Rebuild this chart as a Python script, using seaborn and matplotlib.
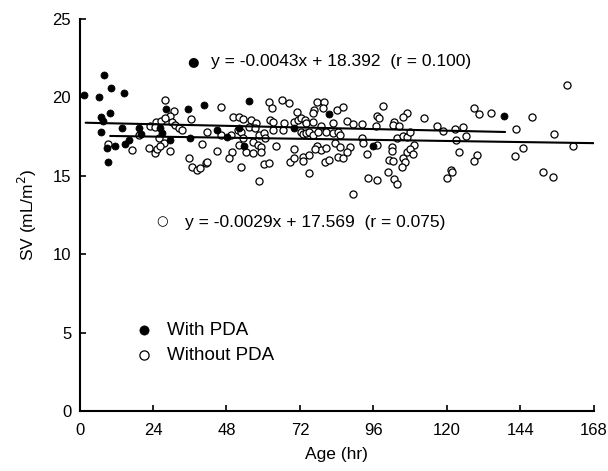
import numpy as np
import pandas as pd
import seaborn as sns
from matplotlib import pyplot as plt

# ---- data ----
pda_age = [1.5, 6.4, 8.1, 10.3, 14.5, 10.0, 7.0, 7.6, 7.0, 13.8, 19.3, 20.0, 26.4, 27.0,
           16.3, 15.0, 11.6, 8.9, 36.2, 29.7, 28.3, 35.4, 40.8, 9.4, 45.0, 48.3, 52.1,
           53.8, 55.4, 70.2, 81.4, 95.7, 138.7]
pda_sv = [20.15, 20.0, 21.45, 20.6, 20.3, 19.0, 18.77, 18.5, 17.8, 18.03, 18.03, 17.65, 18.03, 17.7,
          17.3, 17.0, 16.9, 16.75, 17.4, 17.28, 19.24, 19.24, 19.5, 15.86, 17.92, 17.49, 18.03,
          16.9, 19.79, 18.03, 18.94, 16.92, 18.83]

nopda_age = [
    # 0-42 h
    28.0, 30.8, 29.5, 36.3, 25.1, 26.7, 28.0, 30.2, 23.1, 24.8, 31.3, 32.4, 33.5, 19.3,
    25.8, 27.5, 22.6, 17.1, 9.4, 40.1, 24.7, 25.3, 26.4, 29.4, 35.7, 36.8, 38.4, 39.5, 41.2,
    # 42-85 h
    46.1, 61.8, 62.8, 66.2, 68.4, 77.6, 79.8, 79.6, 76.5, 76.1, 84.1, 71.1, 50.2, 52.2,
    53.5, 56.0, 57.6, 62.2, 63.1, 66.7, 70.2, 71.3, 72.4, 73.5, 74.1, 76.3, 79.0, 82.8,
    41.7, 46.1, 49.4, 51.6, 52.7, 55.4, 57.4, 58.7, 60.4, 60.7, 63.1, 66.4, 72.4, 73.0,
    74.1, 75.1, 76.3, 77.9, 80.6, 82.8, 84.5,
    53.3, 52.1, 56.5, 58.2, 59.3, 64.2, 70.2, 77.4, 79.0, 80.6, 83.4, 85.0,
    45.0, 49.7, 48.8, 41.7, 52.7, 58.7, 60.4, 62.0, 54.3, 56.5, 59.3, 68.6, 70.2, 73.0,
    73.0, 75.1, 76.8, 80.1, 81.5, 84.5, 75.0,
    # 85-127 h
    85.9, 99.0, 97.1, 97.9, 106.9, 105.8, 112.6, 87.4, 89.2, 92.4, 96.8, 102.6, 102.4,
    104.4, 116.6, 118.8, 122.5, 125.1,
    85.0, 92.4, 92.5, 103.7, 105.8, 106.9, 108.0, 126.3, 122.8, 109.1, 102.0, 97.1, 88.3,
    86.1, 87.2, 93.8, 102.0, 101.2, 102.3, 105.8, 106.4, 105.3, 107.0, 108.0, 109.0,
    100.9, 102.6, 103.7, 94.1, 97.3, 89.4, 124.1, 121.2, 121.7, 119.9,
    # 127-168 h
    159.3, 128.9, 130.5, 134.5, 147.7, 142.5, 154.9, 144.7, 161.2, 129.9, 128.8, 142.3,
    151.3, 154.6]
nopda_sv = [
    19.83, 19.13, 18.83, 18.6, 18.45, 18.51, 18.67, 18.45, 18.18, 18.13, 18.24, 18.03, 17.92, 17.6,
    17.39, 17.07, 16.8, 16.65, 17.03, 17.03, 16.43, 16.7, 16.92, 16.6, 16.15, 15.58, 15.37, 15.52, 15.8,
    19.37, 19.69, 19.30, 19.83, 19.66, 19.73, 19.73, 19.30, 19.20, 18.99, 19.20, 19.09, 18.73, 18.73,
    18.62, 18.56, 18.35, 18.56, 18.45, 18.39, 18.45, 18.56, 18.67, 18.56, 18.35, 18.45, 18.18, 18.35,
    17.81, 17.6, 17.6, 17.92, 17.81, 18.13, 18.03, 17.6, 17.71, 17.39, 17.92, 17.92, 17.81, 17.65,
    17.71, 17.81, 17.6, 17.81, 17.81, 17.71, 17.81,
    17.39, 16.96, 17.17, 16.96, 16.86, 16.92, 16.71, 16.9, 16.65, 16.75, 17.07, 16.86,
    16.58, 16.54, 16.12, 15.86, 15.54, 14.67, 15.73, 15.80, 16.54, 16.43, 16.54, 15.9, 16.12, 16.22,
    15.94, 16.33, 16.71, 15.9, 16.01, 16.22, 15.16,
    19.37, 19.47, 18.83, 18.67, 18.99, 18.73, 18.71, 18.5, 18.29, 18.3, 18.2, 18.45, 18.24,
    18.2, 18.2, 17.86, 17.98, 18.09,
    17.6, 17.39, 17.11, 17.39, 17.54, 17.49, 17.81, 17.56, 17.28, 16.95, 16.86, 16.96, 16.86,
    16.12, 16.54, 16.39, 16.58, 16.01, 15.96, 16.12, 15.90, 15.58, 16.5, 16.7, 16.4,
    15.22, 14.78, 14.46, 14.84, 14.73, 13.82, 16.5, 15.37, 15.22, 14.84,
    20.79, 19.3, 18.94, 18.99, 18.77, 17.98, 17.65, 16.79, 16.92, 16.33, 15.94, 16.26,
    15.26, 14.94]

# regression lines as printed on the chart
pda_fit = (-0.0043, 18.392, 0.100)
nopda_fit = (-0.0029, 17.569, 0.075)
pda_range = [2, 139]
nopda_range = [10, 168]

x_ticks = [0, 24, 48, 72, 96, 120, 144, 168]
y_ticks = [0, 5, 10, 15, 20, 25]

sns.set_style("ticks")
plt.rcParams['font.family'] = ['Liberation Sans', 'DejaVu Sans']
plt.rcParams['text.color'] = 'black'
plt.rcParams['axes.labelcolor'] = 'black'
plt.rcParams['axes.edgecolor'] = 'black'
plt.rcParams['xtick.color'] = 'black'
plt.rcParams['ytick.color'] = 'black'

fig = plt.figure(figsize=(6.08, 4.71), dpi=100)
ax = fig.add_axes([0.1308, 0.1274, 0.846, 0.8323])

df_pda = pd.DataFrame({"age": pda_age, "sv": pda_sv})
df_nopda = pd.DataFrame({"age": nopda_age, "sv": nopda_sv})

sns.scatterplot(data=df_nopda, x="age", y="sv", ax=ax, marker="o", s=26,
                facecolor="white", edgecolor="black", linewidth=0.9,
                label="Without PDA", zorder=3)
sns.scatterplot(data=df_pda, x="age", y="sv", ax=ax, marker="o", s=26,
                color="black", edgecolor="black", linewidth=0.5,
                label="With PDA", zorder=4)

# fitted lines
for fit, rng in [(pda_fit, pda_range), (nopda_fit, nopda_range)]:
    xs = np.array(rng, dtype=float)
    ax.plot(xs, fit[0] * xs + fit[1], color="black", lw=1.5, zorder=5)

# equation labels
ax.text(37.1, 22.3, "\u25cf", fontsize=9.5, ha="center", va="center",
        family=["DejaVu Sans"])
ax.text(43, 22.3, "y = %.4fx + %.3f  (r = %.3f)" % pda_fit, fontsize=12.5,
        ha="left", va="center")
ax.text(27.0, 12.05, "\u25cb", fontsize=9.5, ha="center", va="center",
        family=["DejaVu Sans"])
ax.text(34.5, 12.05, "y = %.4fx + %.3f  (r = %.3f)" % nopda_fit, fontsize=12.5,
        ha="left", va="center")

ax.set_xlim(0, 168)
ax.set_ylim(0, 25)
ax.set_xticks(x_ticks)
ax.set_yticks(y_ticks)
ax.tick_params(direction="in", length=4, width=1.2, labelsize=12)
ax.tick_params(axis="x", pad=9)
ax.tick_params(axis="y", pad=6)
for side in ["left", "bottom"]:
    ax.spines[side].set_linewidth(1.5)
sns.despine(ax=ax)
ax.set_xlabel("Age (hr)", fontsize=12.5, labelpad=6)
ax.set_ylabel("SV (mL/m$^2$)", fontsize=12.5, labelpad=10)

handles, labels = ax.get_legend_handles_labels()
order = [labels.index("With PDA"), labels.index("Without PDA")]
ax.legend([handles[i] for i in order], [labels[i] for i in order],
          loc="upper left", bbox_to_anchor=(0.089, 0.252), frameon=False,
          fontsize=13.5, handlelength=1.0, handletextpad=0.7,
          labelspacing=0.45, borderpad=0, markerscale=1.3)

fig.savefig("out.png", dpi=100)
